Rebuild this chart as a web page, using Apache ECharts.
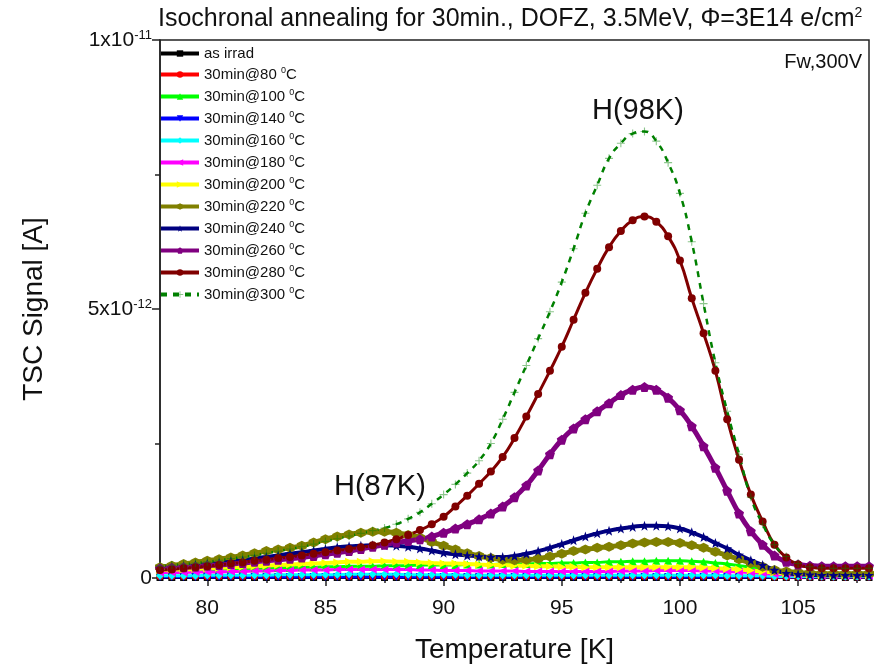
<!DOCTYPE html>
<html>
<head>
<meta charset="utf-8">
<script src="https://cdn.jsdelivr.net/npm/echarts@6/dist/echarts.min.js"></script>
<style>
html,body{margin:0;padding:0;background:#fff;}
#chart{width:875px;height:670px;}
</style>
</head>
<body>
<div id="chart"></div>
<script>
// Temperatures [K]
const temps = [78,78.5,79,79.5,80,80.5,81,81.5,82,82.5,83,83.5,84,84.5,85,85.5,86,86.5,87,87.5,88,88.5,89,89.5,90,90.5,91,91.5,92,92.5,93,93.5,94,94.5,95,95.5,96,96.5,97,97.5,98,98.5,99,99.5,100,100.5,101,101.5,102,102.5,103,103.5,104,104.5,105,105.5,106,106.5,107,107.5,108];

// TSC signal in units of 1e-12 A
const asIrrad = [0.01,0.01,0.01,0.01,0.01,0.01,0.01,0.01,0.01,0.01,0.01,0.01,0.01,0.01,0.01,0.01,0.01,0.01,0.01,0.01,0.01,0.01,0.01,0.01,0.01,0.01,0.01,0.01,0.01,0.01,0.01,0.01,0.01,0.01,0.01,0.01,0.01,0.01,0.01,0.01,0.01,0.01,0.01,0.01,0.01,0.01,0.01,0.01,0.01,0.01,0.01,0.01,0.01,0.01,0.01,0.01,0.01,0.01,0.01,0.01,0.01];
const a080 = [0.03,0.03,0.03,0.03,0.03,0.03,0.03,0.03,0.03,0.03,0.03,0.03,0.03,0.03,0.03,0.03,0.03,0.03,0.03,0.03,0.03,0.03,0.03,0.03,0.03,0.03,0.03,0.03,0.03,0.03,0.03,0.03,0.03,0.03,0.03,0.03,0.03,0.03,0.03,0.03,0.03,0.03,0.03,0.03,0.03,0.03,0.03,0.03,0.03,0.03,0.03,0.03,0.02,0.02,0.02,0.02,0.02,0.02,0.02,0.02,0.02];
const a100 = [0.14,0.14,0.15,0.15,0.16,0.16,0.17,0.17,0.18,0.18,0.19,0.19,0.2,0.2,0.21,0.21,0.22,0.22,0.22,0.23,0.23,0.23,0.24,0.24,0.24,0.24,0.25,0.25,0.25,0.26,0.26,0.26,0.27,0.27,0.28,0.28,0.29,0.29,0.3,0.3,0.31,0.31,0.32,0.32,0.32,0.31,0.3,0.28,0.26,0.23,0.2,0.16,0.13,0.1,0.08,0.07,0.06,0.05,0.05,0.05,0.05];
const a140 = [0.02,0.02,0.02,0.02,0.02,0.02,0.02,0.02,0.02,0.02,0.02,0.02,0.02,0.02,0.02,0.02,0.02,0.02,0.02,0.02,0.02,0.02,0.02,0.02,0.02,0.02,0.02,0.02,0.02,0.02,0.02,0.02,0.02,0.02,0.02,0.02,0.02,0.02,0.02,0.02,0.02,0.02,0.02,0.02,0.02,0.02,0.02,0.02,0.02,0.02,0.02,0.02,0.02,0.02,0.02,0.02,0.02,0.02,0.02,0.02,0.02];
const a160 = [0.04,0.04,0.04,0.04,0.05,0.05,0.05,0.05,0.05,0.05,0.06,0.06,0.06,0.06,0.06,0.06,0.07,0.07,0.07,0.07,0.07,0.06,0.06,0.06,0.06,0.06,0.05,0.05,0.05,0.05,0.05,0.05,0.05,0.05,0.05,0.05,0.05,0.05,0.05,0.05,0.05,0.05,0.05,0.05,0.05,0.05,0.05,0.05,0.04,0.04,0.04,0.04,0.03,0.03,0.03,0.03,0.03,0.03,0.03,0.03,0.03];
const a180 = [0.1,0.1,0.1,0.11,0.11,0.11,0.12,0.12,0.13,0.13,0.14,0.14,0.15,0.15,0.15,0.16,0.16,0.16,0.16,0.16,0.16,0.16,0.15,0.15,0.14,0.14,0.14,0.13,0.13,0.13,0.13,0.12,0.12,0.12,0.12,0.12,0.12,0.12,0.12,0.13,0.13,0.13,0.14,0.14,0.14,0.14,0.13,0.13,0.12,0.11,0.1,0.09,0.07,0.06,0.05,0.05,0.04,0.04,0.04,0.04,0.04];
const a200 = [0.15,0.16,0.16,0.17,0.18,0.19,0.2,0.21,0.22,0.23,0.24,0.25,0.26,0.27,0.28,0.29,0.3,0.3,0.31,0.31,0.3,0.3,0.29,0.28,0.27,0.27,0.26,0.25,0.24,0.24,0.23,0.23,0.22,0.22,0.21,0.21,0.2,0.2,0.2,0.2,0.2,0.2,0.2,0.2,0.2,0.2,0.19,0.18,0.17,0.16,0.14,0.12,0.1,0.08,0.07,0.06,0.05,0.05,0.05,0.05,0.05];
const a220 = [0.2,0.23,0.26,0.29,0.32,0.35,0.38,0.42,0.46,0.5,0.53,0.56,0.6,0.66,0.72,0.77,0.81,0.84,0.86,0.86,0.84,0.8,0.75,0.67,0.6,0.53,0.46,0.41,0.37,0.34,0.33,0.34,0.36,0.4,0.45,0.5,0.53,0.56,0.58,0.61,0.64,0.66,0.67,0.67,0.65,0.61,0.56,0.49,0.42,0.35,0.28,0.21,0.15,0.12,0.1,0.09,0.08,0.08,0.08,0.08,0.08];
const a240 = [0.18,0.2,0.22,0.24,0.26,0.28,0.31,0.33,0.36,0.39,0.42,0.45,0.48,0.51,0.54,0.57,0.59,0.6,0.61,0.61,0.6,0.58,0.55,0.51,0.47,0.44,0.42,0.4,0.39,0.39,0.41,0.45,0.5,0.56,0.63,0.7,0.77,0.83,0.88,0.92,0.95,0.97,0.97,0.96,0.92,0.85,0.76,0.65,0.55,0.43,0.33,0.24,0.15,0.09,0.07,0.06,0.05,0.05,0.05,0.05,0.05];
const a260 = [0.18,0.19,0.2,0.21,0.23,0.24,0.26,0.28,0.3,0.32,0.34,0.36,0.38,0.41,0.44,0.47,0.5,0.54,0.58,0.62,0.66,0.69,0.72,0.77,0.84,0.92,1.0,1.09,1.2,1.33,1.5,1.72,2.0,2.3,2.57,2.78,2.95,3.1,3.25,3.4,3.5,3.55,3.5,3.35,3.12,2.82,2.45,2.05,1.62,1.2,0.87,0.62,0.42,0.3,0.25,0.23,0.22,0.22,0.22,0.22,0.22];
const a280 = [0.15,0.16,0.18,0.2,0.22,0.24,0.27,0.29,0.32,0.34,0.37,0.39,0.42,0.45,0.48,0.51,0.54,0.57,0.61,0.66,0.72,0.8,0.89,1.0,1.14,1.33,1.53,1.75,1.98,2.25,2.6,3.0,3.42,3.85,4.3,4.8,5.3,5.75,6.15,6.45,6.65,6.72,6.62,6.35,5.9,5.2,4.55,3.85,2.95,2.2,1.55,1.05,0.62,0.38,0.25,0.2,0.18,0.18,0.18,0.18,0.18];
const a300 = [0.22,0.24,0.26,0.28,0.3,0.33,0.36,0.39,0.42,0.46,0.5,0.54,0.58,0.63,0.68,0.73,0.78,0.83,0.88,0.93,1.0,1.1,1.22,1.38,1.55,1.74,1.95,2.18,2.5,2.95,3.45,3.95,4.45,4.95,5.5,6.12,6.78,7.3,7.8,8.08,8.26,8.3,8.12,7.72,7.15,6.25,5.1,4.0,3.1,2.3,1.5,1.0,0.62,0.4,0.27,0.21,0.19,0.18,0.18,0.18,0.18];

// Series labels (annealing temperatures)
const labels = ['as irrad','80','100','140','160','180','200','220','240','260','280','300'];
const seriesValues = [asIrrad,a080,a100,a140,a160,a180,a200,a220,a240,a260,a280,a300];

// Axis ticks
const xMajorTicks = [80,85,90,95,100,105];
const xMinorTicks = [82.5,87.5,92.5,97.5,102.5,107.5];
const yTickLabels = {0:'0', 5:'5x10{sup|-12}', 10:'1x10{sup|-11}'};

const colors = ['#000000','#ff0000','#00ff00','#0000ff','#00ffff','#ff00ff','#ffff00','#808000','#000080','#800080','#800000','#008000'];
const HEX = 'path://M5,0 L9.33,2.5 L9.33,7.5 L5,10 L0.67,7.5 L0.67,2.5 Z';
const PENT = 'path://M5,0 L9.76,3.45 L7.94,9.05 L2.06,9.05 L0.24,3.45 Z';
const STAR = 'path://M5,0 L6.18,3.38 L9.76,3.45 L6.9,5.62 L7.94,9.05 L5,7 L2.06,9.05 L3.1,5.62 L0.24,3.45 L3.82,3.38 Z';
const PLUS = 'path://M4.3,0 H5.7 V4.3 H10 V5.7 H5.7 V10 H4.3 V5.7 H0 V4.3 H4.3 Z';
const symbols = ['rect','circle','triangle','triangle','diamond','triangle','triangle',HEX,STAR,PENT,'circle',PLUS];
const rotates = [0,0,0,180,0,90,-90,0,0,0,0,0];
const sizes = [7,7,8,8,8,8,8,10,10,10,8,8];
const widths = [3,3,3,3,3,3,4,5,4,5,3,2.5];

const FONT = '"Liberation Sans", Arial, sans-serif';

function seriesName(i){ return i===0 ? 'as irrad' : '30min@' + labels[i] + ' 0C'; }

const series = seriesValues.map((vals, i) => ({
  name: seriesName(i),
  type: 'line',
  xAxisIndex: 0, yAxisIndex: 0,
  data: temps.map((t, k) => [t, vals[k]]),
  smooth: true,
  symbol: symbols[i],
  symbolRotate: rotates[i],
  symbolSize: sizes[i],
  showAllSymbol: true,
  clip: true,
  lineStyle: {color: colors[i], width: widths[i], type: i===11 ? [6,6] : 'solid'},
  itemStyle: {color: i===11 ? 'rgba(0,128,0,0.45)' : colors[i], borderWidth: 0},
  emphasis: {disabled: true}
}));

const chart = echarts.init(document.getElementById('chart'), null, {renderer: 'canvas'});
chart.setOption({
  animation: false,
  backgroundColor: '#fff',
  textStyle: {fontFamily: FONT},
  grid: {left: 160, top: 40, right: 6, bottom: 92, show: true, borderColor: '#222', borderWidth: 1.5, backgroundColor: 'transparent'},
  title: [
    {text: 'Isochronal annealing for 30min., DOFZ, 3.5MeV, \u03A6=3E14 e/cm{sup|2}', left: 153, top: 1,
     textStyle: {fontSize: 25, fontWeight: 'normal', color: '#111', fontFamily: FONT,
       rich: {sup: {fontSize: 14, padding: [0,0,12,0], color: '#111'}}}},
    {text: 'Fw,300V', right: 8, top: 47, textStyle: {fontSize: 20, fontWeight: 'normal', color: '#111', fontFamily: FONT}},
    {text: 'H(98K)', left: 587, top: 91, textStyle: {fontSize: 29, fontWeight: 'normal', color: '#111', fontFamily: FONT}},
    {text: 'H(87K)', left: 329, top: 467, textStyle: {fontSize: 29, fontWeight: 'normal', color: '#111', fontFamily: FONT}}
  ],
  legend: {
    orient: 'vertical', left: 154, top: 41,
    itemWidth: 38, itemHeight: 8, itemGap: 5,
    data: series.map(s => s.name),
    formatter: function(name){
      if (name === 'as irrad') return '{n|as irrad}';
      const base = name.replace(' 0C','');
      return '{n|' + base + ' }{s|0}{n|C}';
    },
    textStyle: {color: '#111', fontFamily: FONT,
      rich: {n: {fontSize: 15, lineHeight: 16, color: '#111'}, s: {fontSize: 9, lineHeight: 16, padding: [0,0,8,0], color: '#111'}}},
    lineStyle: {width: 4},
    selectedMode: false
  },
  xAxis: [
    {type: 'value', min: 78, max: 108, position: 'bottom',
     name: 'Temperature [K]', nameLocation: 'middle', nameGap: 58,
     nameTextStyle: {fontSize: 28, color: '#111', fontFamily: FONT},
     axisLine: {show: true, lineStyle: {color: '#222', width: 1.5}},
     axisTick: {show: true, length: 8, customValues: xMajorTicks, lineStyle: {color: '#222', width: 1.5}},
     axisLabel: {show: true, customValues: xMajorTicks, fontSize: 21, color: '#111', margin: 20, fontFamily: FONT},
     splitLine: {show: false}},
    {type: 'value', min: 78, max: 108, position: 'bottom',
     axisLine: {show: false},
     axisTick: {show: true, length: 5, customValues: xMinorTicks, lineStyle: {color: '#222', width: 1.5}},
     axisLabel: {show: false},
     splitLine: {show: false}}
  ],
  yAxis: [
    {type: 'value', min: 0, max: 10, interval: 5,
     name: 'TSC Signal [A]', nameLocation: 'middle', nameGap: 112,
     nameTextStyle: {fontSize: 28, color: '#111', fontFamily: FONT},
     axisLine: {show: true, lineStyle: {color: '#222', width: 1.5}},
     axisTick: {show: true, length: 8, lineStyle: {color: '#222', width: 1.5}},
     minorTick: {show: true, splitNumber: 2, length: 5, lineStyle: {color: '#222', width: 1.5}},
     axisLabel: {fontSize: 21, color: '#111', margin: 8, fontFamily: FONT,
       formatter: v => yTickLabels[v] !== undefined ? yTickLabels[v] : '',
       rich: {sup: {fontSize: 13, padding: [0,0,10,0], color: '#111'}}},
     splitLine: {show: false}}
  ],
  series: series
});
</script>
</body>
</html>
